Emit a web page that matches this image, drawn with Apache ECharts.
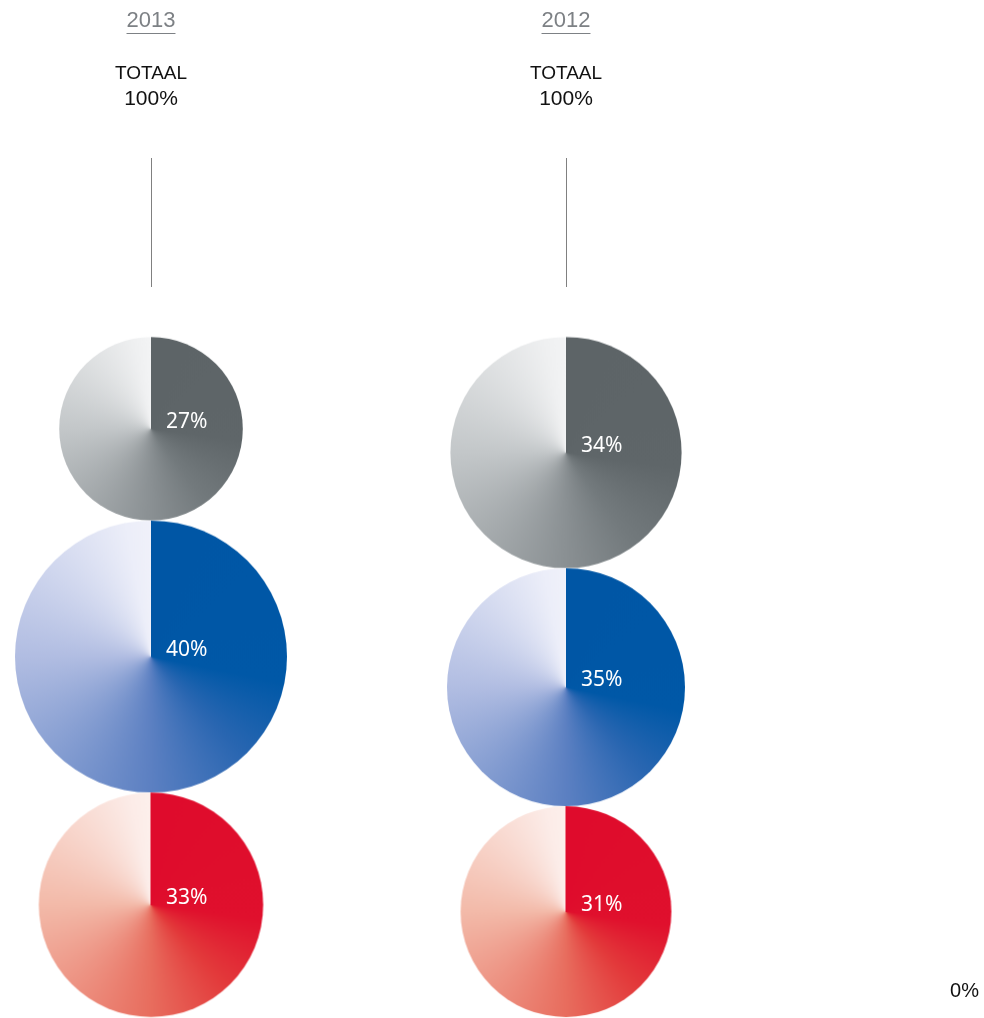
<!DOCTYPE html>
<html>
<head>
<meta charset="utf-8">
<script src="https://cdn.jsdelivr.net/npm/echarts@6/dist/echarts.min.js"></script>
<style>
  html, body { margin: 0; padding: 0; background: #ffffff; }
  #chart { width: 984px; height: 1018px; }
</style>
</head>
<body>
<div id="chart"></div>
<script>
// ---- data ----
const years = ['2013', '2012'];
const totals = [100, 100];
const greyShare = [27, 34];
const blueShare = [40, 35];
const redShare = [33, 31];
const restLabel = '0%';

// ---- colour ramps: fraction of a full turn (clockwise from 12 o'clock) -> colour ----
const greyRamp = [[0, '#5d6467'], [0.27, '#5f6669'], [0.40, '#737a7d'], [0.5, '#8a9093'], [0.75, '#c3c7c9'], [0.97, '#eff0f1'], [1, '#f3f4f5']];
const blueRamp = [[0, '#0056a5'], [0.28, '#0058a7'], [0.38, '#2966b1'], [0.5, '#5c80c2'], [0.75, '#b1bde2'], [0.97, '#eceef9'], [1, '#f0f1fa']];
const redRamp  = [[0, '#df0b2c'], [0.27, '#e0102d'], [0.38, '#e33a3b'], [0.5, '#e86d5e'], [0.75, '#f3baa9'], [0.97, '#fcece8'], [1, '#fdf0ec']];

function hexToRgb(h) {
  return [parseInt(h.slice(1, 3), 16), parseInt(h.slice(3, 5), 16), parseInt(h.slice(5, 7), 16)];
}
function rampColor(ramp, t) {
  for (let i = 1; i < ramp.length; i++) {
    if (t <= ramp[i][0]) {
      const a = ramp[i - 1], b = ramp[i];
      const f = (t - a[0]) / (b[0] - a[0] || 1);
      const ca = hexToRgb(a[1]), cb = hexToRgb(b[1]);
      const c = ca.map((v, k) => Math.round(v + (cb[k] - v) * f));
      return 'rgb(' + c.join(',') + ')';
    }
  }
  return ramp[ramp.length - 1][1];
}

// circles are stacked per year: each centre sits below the previous circle's diameter
const segments = [
  { name: 'grijs', values: greyShare, ramp: greyRamp },
  { name: 'blauw', values: blueShare, ramp: blueRamp },
  { name: 'rood',  values: redShare,  ramp: redRamp }
];
const offsets = years.map(() => 0);
segments.forEach(seg => {
  seg.data = seg.values.map((v, j) => {
    const centre = offsets[j] + v;
    offsets[j] += 2 * v;
    return [j, centre, v];
  });
});

// disc texture with an angular (conic) colour sweep, cached per ramp and radius
const discCache = {};
function discTexture(ramp, r) {
  const key = ramp[0][1] + '_' + r.toFixed(2);
  if (discCache[key]) return discCache[key];
  const size = Math.ceil(2 * r) + 2;
  const c = document.createElement('canvas');
  c.width = size; c.height = size;
  const ctx = c.getContext('2d');
  const m = size / 2;
  if (ctx.createConicGradient) {
    const g = ctx.createConicGradient(-Math.PI / 2, m, m);
    ramp.forEach(s => g.addColorStop(s[0], s[1]));
    ctx.fillStyle = g;
    ctx.beginPath();
    ctx.arc(m, m, r, 0, Math.PI * 2);
    ctx.fill();
  } else {
    const n = 360, step = Math.PI * 2 / n;
    for (let i = 0; i < n; i++) {
      const a0 = -Math.PI / 2 + i * step;
      ctx.fillStyle = rampColor(ramp, (i + 0.5) / n);
      ctx.beginPath();
      ctx.moveTo(m, m);
      ctx.arc(m, m, r, a0, a0 + step * 1.5);
      ctx.closePath();
      ctx.fill();
    }
  }
  discCache[key] = { canvas: c, size: size };
  return discCache[key];
}

function circleRenderer(ramp) {
  return function (params, api) {
    const p = api.coord([api.value(0), api.value(1)]);
    const r = api.size([0, api.value(2)])[1];
    const tex = discTexture(ramp, r);
    return {
      type: 'group',
      children: [
        {
          type: 'image',
          silent: true,
          style: { image: tex.canvas, x: p[0] - tex.size / 2, y: p[1] - tex.size / 2, width: tex.size, height: tex.size }
        },
        {
          type: 'text',
          x: p[0] + 15,
          y: p[1] - 7,
          style: {
            text: api.value(2) + '%',
            fill: '#ffffff',
            font: '21px "Noto Sans"',
            textAlign: 'left',
            textVerticalAlign: 'middle'
          }
        }
      ]
    };
  };
}

const measureCtx = document.createElement('canvas').getContext('2d');
const yearFont = '22px "Liberation Sans"';

function headerRenderer(params, api) {
  const j = api.value(0);
  const x = api.coord([j, 0])[0];
  measureCtx.font = yearFont;
  const w = measureCtx.measureText(years[j]).width;
  return {
    type: 'group',
    children: [
      { type: 'text', x: x, y: 21, style: { text: years[j], font: yearFont, fill: '#7d8185', textAlign: 'center', textVerticalAlign: 'middle' } },
      { type: 'rect', shape: { x: x - w / 2, y: 33, width: w, height: 1 }, style: { fill: '#7d8185' } },
      { type: 'text', x: x, y: 74, style: { text: 'TOTAAL', font: '19px "Liberation Sans"', fill: '#111111', textAlign: 'center', textVerticalAlign: 'middle' } },
      { type: 'text', x: x, y: 99, style: { text: totals[j] + '%', font: '21px "Liberation Sans"', fill: '#111111', textAlign: 'center', textVerticalAlign: 'middle' } },
      { type: 'line', shape: { x1: x + 0.5, y1: 158, x2: x + 0.5, y2: 287 }, style: { stroke: '#808080', lineWidth: 1 } }
    ]
  };
}

const chart = echarts.init(document.getElementById('chart'), null, { renderer: 'canvas' });
chart.setOption({
  animation: false,
  backgroundColor: '#ffffff',
  grid: { left: 151, right: 418, top: 337, height: 680 },
  xAxis: { type: 'category', data: years, boundaryGap: false, show: false },
  yAxis: { type: 'value', min: 0, max: 200, inverse: true, show: false },
  graphic: [
    { type: 'text', right: 5, top: 981, style: { text: restLabel, font: '20px "Liberation Sans"', fill: '#111111' } }
  ],
  series: [
    {
      type: 'custom',
      name: 'kop',
      clip: false,
      silent: true,
      data: years.map((y, j) => [j, 0]),
      renderItem: headerRenderer
    }
  ].concat(segments.map(seg => ({
    type: 'custom',
    name: seg.name,
    clip: false,
    silent: true,
    data: seg.data,
    renderItem: circleRenderer(seg.ramp)
  })))
});
</script>
</body>
</html>
